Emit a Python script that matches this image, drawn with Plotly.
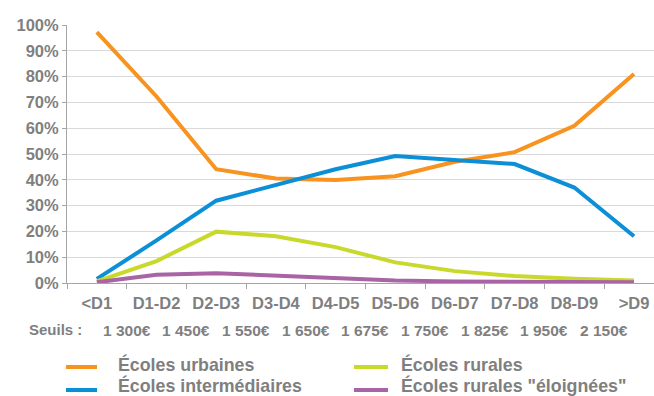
import plotly.graph_objects as go

categories = ["<D1", "D1-D2", "D2-D3", "D3-D4", "D4-D5", "D5-D6", "D6-D7", "D7-D8", "D8-D9", ">D9"]
seuils = ["1 300€", "1 450€", "1 550€", "1 650€", "1 675€", "1 750€", "1 825€", "1 950€", "2 150€"]

urbaines = [0.972, 0.723, 0.441, 0.405, 0.399, 0.414, 0.470, 0.507, 0.609, 0.810]
intermediaires = [0.016, 0.165, 0.319, 0.379, 0.441, 0.492, 0.477, 0.461, 0.370, 0.181]
rurales = [0.006, 0.085, 0.199, 0.181, 0.139, 0.080, 0.046, 0.027, 0.016, 0.010]
eloignees = [0.003, 0.032, 0.038, 0.029, 0.020, 0.010, 0.006, 0.004, 0.003, 0.003]

names = ["Écoles urbaines", "Écoles intermédiaires", "Écoles rurales", 'Écoles rurales "éloignées"']
colors = ["#F7931E", "#0B8FD6", "#C8D92B", "#A864A4"]
series = [urbaines, intermediaires, rurales, eloignees]

FONT = "Liberation Sans, Arial, sans-serif"
GREY = "#7F7F7F"

fig = go.Figure()
for name, col, vals in zip(names, colors, series):
    fig.add_trace(go.Scatter(x=categories, y=vals, mode="lines", name=name,
                             line=dict(color=col, width=4), showlegend=False))

L, T, W, H = 67, 25, 587, 258
def px(xp):
    return (xp - L) / W
def py(yp):
    return (T + H - yp) / H

annotations = []
# Seuils row
annotations.append(dict(text="<b>Seuils :</b>", xref="paper", yref="paper", x=px(27), y=py(330),
                        xanchor="left", yanchor="middle", showarrow=False,
                        font=dict(family=FONT, size=15, color=GREY)))
for i, s in enumerate(seuils):
    annotations.append(dict(text="<b>%s</b>" % s, xref="x", yref="paper", x=i + 0.5, y=py(331),
                            xanchor="center", yanchor="middle", showarrow=False,
                            font=dict(family=FONT, size=15.5, color=GREY)))

# manual legend (2 columns)
shapes = []
legend_pos = [(66, 97, 117, 367, 364), (66, 97, 117, 390, 385),
              (354, 388, 400, 367, 364), (354, 388, 400, 390, 385)]
for (x0, x1, xt, yl, yt), name, col in zip(legend_pos, names, colors):
    shapes.append(dict(type="line", xref="paper", yref="paper", x0=px(x0), x1=px(x1),
                       y0=py(yl), y1=py(yl), line=dict(color=col, width=4)))
    annotations.append(dict(text="<b>%s</b>" % name, xref="paper", yref="paper", x=px(xt), y=py(yt),
                            xanchor="left", yanchor="middle", showarrow=False, borderpad=0,
                            font=dict(family=FONT, size=17.8, color=GREY)))

fig.update_layout(
    width=654, height=396,
    margin=dict(l=L, r=654 - L - W, t=T, b=396 - T - H),
    paper_bgcolor="white", plot_bgcolor="white",
    font=dict(family=FONT, color=GREY),
    annotations=annotations, shapes=shapes,
    showlegend=False,
)
fig.update_xaxes(type="category", range=[-0.5, 9.335], showgrid=False,
                 showline=True, linecolor="#A6A6A6", linewidth=1,
                 ticks="outside", tickson="boundaries", ticklen=5, tickcolor="#A6A6A6",
                 ticklabelstandoff=5,
                 tickfont=dict(family=FONT, size=16.5, color=GREY), fixedrange=True)
fig.update_yaxes(range=[0, 1.0], showgrid=True, gridcolor="#D9D9D9",
                 gridwidth=1, showline=True, linecolor="#A6A6A6", linewidth=1,
                 ticks="outside", ticklen=4, tickcolor="#A6A6A6", zeroline=False,
                 tickfont=dict(family=FONT, size=16.5, color=GREY), fixedrange=True)
# bold tick labels
fig.update_xaxes(ticktext=["<b>%s</b>" % c.replace("<", "&lt;") for c in categories],
                 tickvals=categories)
fig.update_yaxes(tickvals=[i / 10 for i in range(11)],
                 ticktext=["<b>%d%%</b>" % (i * 10) for i in range(11)])

fig.write_html("out.html")
